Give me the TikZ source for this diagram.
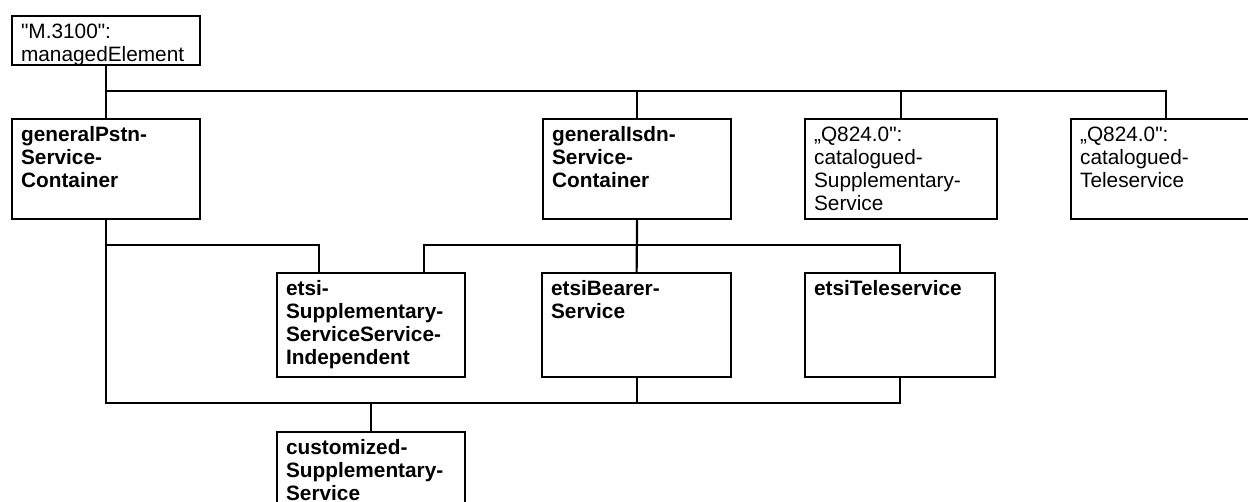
\documentclass[tikz,border=0pt]{standalone}
\usepackage{fontspec}
\setmainfont{Liberation Sans}
% same face without TeX ligature mapping, for straight double quotes
\newfontfamily\plainqfont{Liberation Sans}
\usetikzlibrary{calc}

\begin{document}
\begin{tikzpicture}[x=0.5pt,y=-0.5pt,
  line width=1.1pt,
  objbox/.style={draw, rectangle, inner sep=0pt, anchor=north west},
  objtext/.style={anchor=north west, inner sep=0pt, align=left,
    font=\fontsize{10.4}{11.6}\selectfont},
  boldtext/.style={objtext, font=\fontsize{10.4}{11.6}\selectfont\bfseries}]
\useasboundingbox (0,0) rectangle (1248,502);
\clip (0,0) rectangle (1248,502);

% straight double quote
\newcommand{\dq}{{\plainqfont "}}

% box macro: name, left, top, right, bottom
\newcommand{\objbox}[5]{%
  \node[objbox, minimum width={(#4-#2)*0.5pt}, minimum height={(#5-#3)*0.5pt}]
    (#1) at (#2,#3) {};}
\newcommand{\boxtext}[3]{%
  \node[#2] (#1-txt) at ($(#1.north west)+(9,2)$) {\rule{0pt}{10pt}#3};}

% objects
\objbox{me}{11}{15}{199}{64}
\objbox{pstn}{11}{118}{199}{218}
\objbox{isdn}{542}{118}{730}{218}
\objbox{qsup}{804}{118}{996}{218}
\objbox{qtele}{1070}{118}{1260}{218}
\objbox{ssi}{276}{272}{464}{376}
\objbox{bearer}{541}{272}{730}{376}
\objbox{etele}{804}{272}{994}{376}
\objbox{cust}{276}{431}{464}{560}

\boxtext{me}{objtext}{\dq M.3100\dq :\\managedElement}
\boxtext{pstn}{boldtext}{generalPstn-\\Service-\\Container}
\boxtext{isdn}{boldtext}{generalIsdn-\\Service-\\Container}
\boxtext{qsup}{objtext}{„Q824.0\dq :\\catalogued-\\Supplementary-\\Service}
\boxtext{qtele}{objtext}{„Q824.0\dq :\\catalogued-\\Teleservice}
\boxtext{ssi}{boldtext}{etsi-\\Supplementary-\\ServiceService-\\Independent}
\boxtext{bearer}{boldtext}{etsiBearer-\\Service}
\boxtext{etele}{boldtext}{etsiTeleservice}
\boxtext{cust}{boldtext}{customized-\\Supplementary-\\Service}

% bus levels
\coordinate (bus1) at (0,91);
\coordinate (bus2) at (0,245);
\coordinate (bus3) at (0,403);
\coordinate (ssiL) at ($(ssi.north)+(-52,0)$);
\coordinate (ssiR) at ($(ssi.north)+(53,0)$);

% containment from managedElement
\draw (me.south) -- (pstn.north);
\draw (me.south |- bus1) -| (qtele.north);
\draw (isdn.north) -- (isdn.north |- bus1);
\draw (qsup.north) -- (qsup.north |- bus1);

% second level
\draw (pstn.south |- bus2) -| (ssiL);
\draw (ssiR) -- (ssiR |- bus2) -| (etele.north);
\draw (isdn.south) -- (bearer.north);

% third level
\draw (pstn.south) |- (etele.south |- bus3) -- (etele.south);
\draw (bearer.south) -- (bearer.south |- bus3);
\draw (cust.north) -- (cust.north |- bus3);
\end{tikzpicture}
\end{document}
